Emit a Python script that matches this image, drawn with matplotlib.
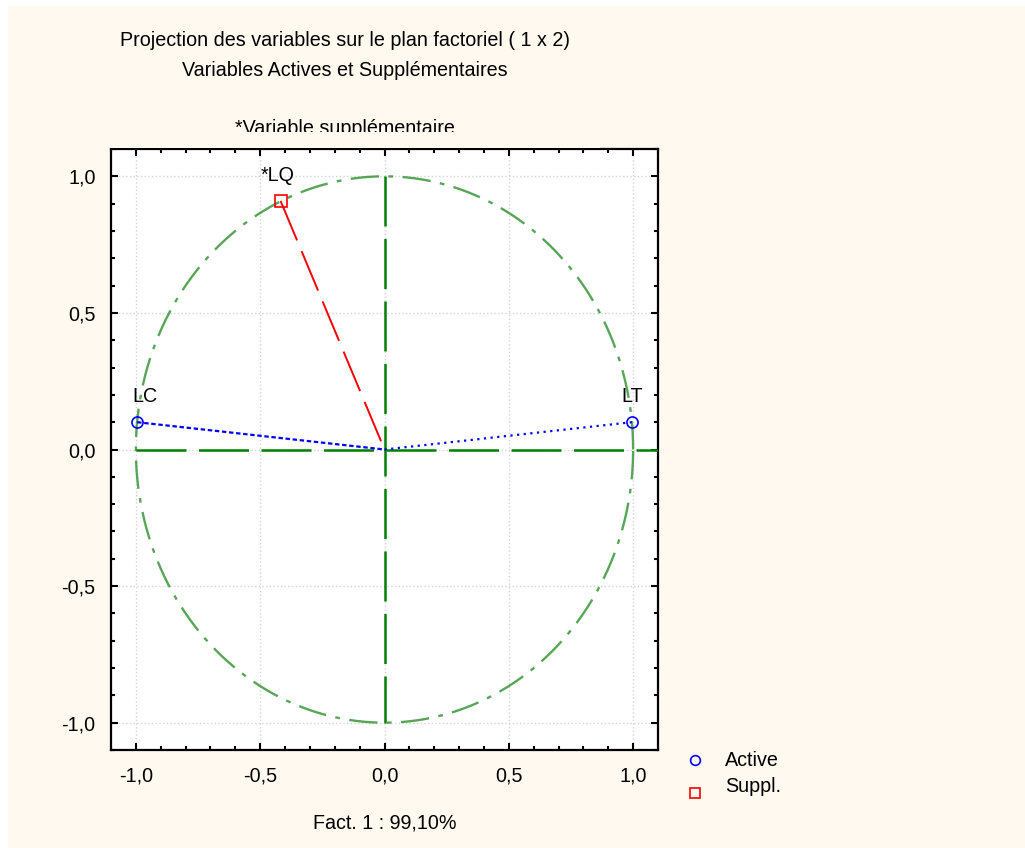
import numpy as np
import matplotlib
matplotlib.use("Agg")
import matplotlib.pyplot as plt
from matplotlib.patches import Rectangle
from matplotlib.ticker import MultipleLocator, FuncFormatter

plt.rcParams["font.family"] = ["Liberation Sans", "DejaVu Sans"]

# =============================================================
# DATA
# =============================================================

active_names = ["LC", "LT"]
active_x = [-0.995, 0.995]
active_y = [0.10, 0.10]

suppl_names = ["*LQ"]
suppl_x = [-0.418]
suppl_y = [0.91]

title_lines = ["Projection des variables sur le plan factoriel ( 1 x 2)",
               "Variables Actives et Supplémentaires"]
note_text = "*Variable supplémentaire"
xlabel_text = "Fact. 1 : 99,10%"
legend_labels = ["Active", "Suppl."]

CREAM = "#FFF9EF"
W, H = 1025, 848
FS = 14.2

# =============================================================
# FIGURE
# =============================================================

fig = plt.figure(figsize=(W / 100, H / 100), dpi=100, facecolor="white")
fig.add_artist(Rectangle((8 / W, 0), 1 - 8 / W, 1 - 6 / H,
                         transform=fig.transFigure, facecolor=CREAM,
                         edgecolor="none", zorder=-10))

ax = fig.add_axes([111 / W, 1 - 750 / H, (658 - 111) / W, (750 - 149) / H])
ax.set_facecolor("white")
ax.set_xlim(-1.1, 1.1)
ax.set_ylim(-1.1, 1.1)

for s in ax.spines.values():
    s.set_linewidth(1.6)
    s.set_color("black")

ax.xaxis.set_major_locator(MultipleLocator(0.5))
ax.yaxis.set_major_locator(MultipleLocator(0.5))
ax.xaxis.set_minor_locator(MultipleLocator(0.1))
ax.yaxis.set_minor_locator(MultipleLocator(0.1))
fmt = FuncFormatter(lambda v, p: f"{v:.1f}".replace(".", ",").replace("-0,0", "0,0"))
ax.xaxis.set_major_formatter(fmt)
ax.yaxis.set_major_formatter(fmt)
ax.tick_params(which="both", direction="in", top=True, right=True,
               labelsize=FS, width=1.5)
ax.tick_params(which="major", length=5)
ax.tick_params(which="minor", length=3)
ax.tick_params(axis="x", which="major", pad=12)
ax.tick_params(axis="y", which="major", pad=11)
ax.grid(True, which="major", color="#d4d4d4", linestyle=":", linewidth=1)
ax.set_axisbelow(True)

# unit circle
t = np.linspace(0, 2 * np.pi, 400)
ax.plot(np.cos(t), np.sin(t), color="#3a963a", lw=1.7, alpha=0.85,
        dashes=(12, 4, 2, 4), zorder=2)

# factor axes
ax.plot([-1, 1.1], [0, 0], color="#008000", lw=1.8, dashes=(20, 5), zorder=3)
ax.plot([0, 0], [1, -1], color="#008000", lw=1.8, dashes=(20, 5), zorder=3)

# active vectors
ax.plot([active_x[0], 0], [active_y[0], 0], color="blue", lw=1.6,
        dashes=(2, 1.2), zorder=4)
ax.plot([0, active_x[1]], [0, active_y[1]], color="blue", lw=1.6,
        dashes=(1, 2), zorder=4)
ax.plot(active_x, active_y, "o", ms=8, mfc="none", mec="blue", mew=1.2, zorder=5)

# supplementary vectors
for x, y in zip(suppl_x, suppl_y):
    ax.plot([x, 0], [y, 0], color="red", lw=1.4, dashes=(22, 6), zorder=4)
ax.plot(suppl_x, suppl_y, "s", ms=8, mfc="none", mec="red", mew=1.2, zorder=5)

for n, x, y in zip(active_names, active_x, active_y):
    ax.text(x + 0.03 if x < 0 else x, y + 0.06, n, ha="center", va="bottom",
            fontsize=FS)
for n, x, y in zip(suppl_names, suppl_x, suppl_y):
    ax.text(x - 0.01, y + 0.06, n, ha="center", va="bottom", fontsize=FS)

fig.text(385 / W, 1 - 823 / H, xlabel_text, ha="center", va="center", fontsize=FS)

# =============================================================
# TITLES
# =============================================================

fig.text(345 / W, 1 - 40 / H, title_lines[0], ha="center", va="center", fontsize=FS)
fig.text(345 / W, 1 - 70 / H, title_lines[1], ha="center", va="center", fontsize=FS)
fig.text(345 / W, 1 - 128 / H, note_text, ha="center", va="center", fontsize=FS)
# clipped note, as in the original export
fig.add_artist(Rectangle((100 / W, 1 - 148 / H), 500 / W, 16 / H,
                         transform=fig.transFigure, facecolor=CREAM,
                         edgecolor="none", zorder=10))

# =============================================================
# LEGEND
# =============================================================

fig.lines.append(plt.Line2D([695 / W], [1 - 760 / H], marker="o", ms=7,
                            mfc="none", mec="blue", mew=1.2,
                            transform=fig.transFigure, figure=fig))
fig.lines.append(plt.Line2D([695 / W], [1 - 793 / H], marker="s", ms=7,
                            mfc="none", mec="red", mew=1.2,
                            transform=fig.transFigure, figure=fig))
fig.text(725 / W, 1 - 760 / H, legend_labels[0], ha="left", va="center", fontsize=FS)
fig.text(725 / W, 1 - 787 / H, legend_labels[1], ha="left", va="center", fontsize=FS)

fig.savefig("out.png", dpi=100, facecolor="white")
